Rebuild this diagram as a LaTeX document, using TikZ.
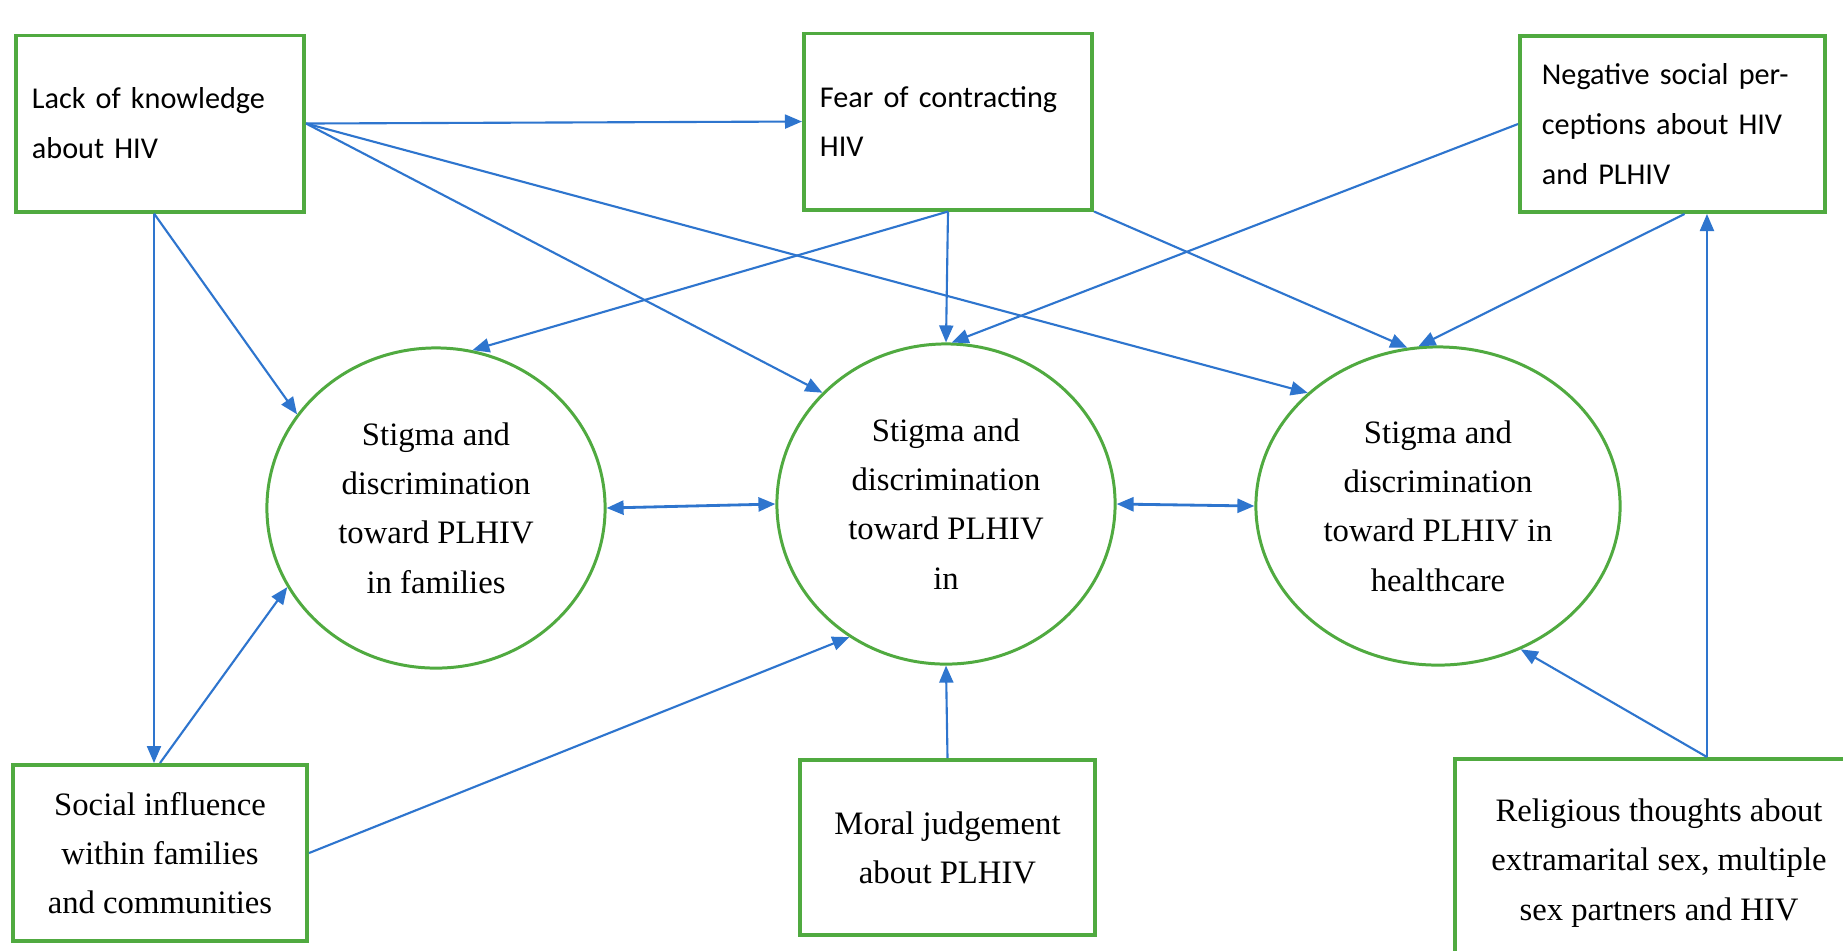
\documentclass[tikz,border=0pt]{standalone}
\usepackage{fontspec}
\setmainfont{Liberation Serif}
\newfontfamily\calibri{Carlito}
\usetikzlibrary{shapes.geometric,arrows.meta,calc}
\definecolor{boxgreen}{RGB}{80,170,64}
\definecolor{linkblue}{RGB}{46,117,206}

\begin{document}
\begin{tikzpicture}
  [x=0.01cm,y=-0.01cm,>={Triangle[length=1.7mm,width=1.4mm]},
   every node/.style={font=\fontsize{9.3pt}{14pt}\selectfont,align=center,draw=boxgreen,line width=1.1pt},
   factor/.style={rectangle,inner sep=0pt,minimum height=1.76cm},
   topfactor/.style={factor,font=\calibri\fontsize{8.6pt}{14.2pt}\selectfont,align=left,inner xsep=0.16cm,text width=2.56cm},
   stigma/.style={ellipse,inner sep=0pt,line width=0.85pt,minimum width=3.38cm,minimum height=3.2cm},
   link/.style={draw=linkblue,line width=0.6pt,->},
   twolink/.style={draw=linkblue,line width=0.8pt,<->}]
  \useasboundingbox (0,0) rectangle (1843,950);
  \fill[white] (0,0) rectangle (1843,950);

  % causes
  \node (lack)[topfactor] at (160,123.5) {Lack of knowledge\\about HIV};
  \node (fear)[topfactor] at (948,121.5) {Fear of contracting\\HIV};
  \node (neg)[topfactor,text width=2.61cm,inner xsep=0.22cm] at (1672.5,124) {Negative social per-\\ceptions about HIV\\and PLHIV};
  \node (soc)[factor,minimum width=2.94cm] at (160,853) {Social influence\\within families\\and communities};
  \node (moral)[factor,minimum width=2.95cm,minimum height=1.75cm] at (947.5,847.5) {Moral judgement\\about PLHIV};
  \node (relig)[factor,minimum width=4.08cm,minimum height=2.08cm] at (1659,863) {Religious thoughts about\\extramarital sex, multiple\\sex partners and HIV};

  % stigma
  \node (sfam)[stigma] at (436,508) {Stigma and\\discrimination\\toward PLHIV\\in families};
  \node (smid)[stigma] at (946,504) {Stigma and\\discrimination\\toward PLHIV\\in};
  \node (scare)[stigma,minimum width=3.64cm,minimum height=3.18cm] at (1438,506) {Stigma and\\discrimination\\toward PLHIV in\\healthcare};

  \coordinate (lackfoot) at ($(lack.south)+(-6,0)$);
  \coordinate (negfoot) at ($(neg.south)+(12,0)$);
  \coordinate (religtop) at ($(relig.north west)+(254,0)$);

  \foreach \from/\to in {lack.east/fear.west,lack.east/smid.138,lack.east/scare.139,
      lackfoot/sfam.146,lackfoot/lackfoot |- soc.north,soc.north/sfam.208,soc.east/smid.234,
      fear.south/sfam.77,fear.south/smid.north,fear.south east/scare.101,
      neg.west/smid.88,negfoot/scare.97,moral.north/smid.south,
      religtop/scare.300,religtop/religtop |- neg.south}
    \draw[link] (\from) -- (\to);

  \foreach \from/\to in {sfam.east/smid.west,smid.east/scare.west}
    \draw[twolink] (\from) -- (\to);

\end{tikzpicture}
\end{document}
